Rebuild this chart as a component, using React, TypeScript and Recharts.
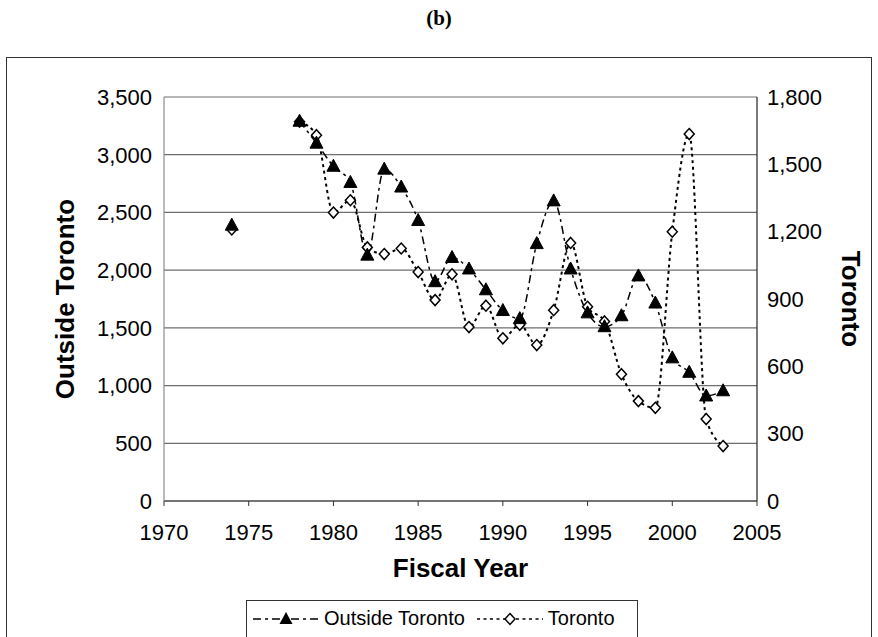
import React from 'react'
import { LineChart, Line, XAxis, YAxis, CartesianGrid, Label } from 'recharts'

// fiscal years and the two series (null = no value that year)
const years = [
  1974, 1975, 1976, 1977, 1978, 1979, 1980, 1981, 1982, 1983, 1984, 1985, 1986, 1987, 1988,
  1989, 1990, 1991, 1992, 1993, 1994, 1995, 1996, 1997, 1998, 1999, 2000, 2001, 2002, 2003,
]
const outsideToronto = [
  2390, null, null, null, 3290, 3100, 2900, 2760, 2130, 2875, 2720, 2430, 1900, 2110, 2010,
  1830, 1650, 1580, 2230, 2600, 2010, 1630, 1510, 1605, 1950, 1715, 1240, 1115, 910, 955,
]
const toronto = [
  1210, null, null, null, 1690, 1630, 1285, 1340, 1130, 1100, 1125, 1020, 895, 1010, 775,
  870, 725, 785, 695, 850, 1150, 865, 800, 565, 445, 415, 1200, 1635, 365, 245,
]

const xTicks = [1970, 1975, 1980, 1985, 1990, 1995, 2000, 2005]
const leftTicks = [0, 500, 1000, 1500, 2000, 2500, 3000, 3500]
const rightTicks = [0, 300, 600, 900, 1200, 1500, 1800]

const data = years.map((year, i) => ({
  year,
  outside: outsideToronto[i],
  toronto: toronto[i],
}))

const FONT = '"Liberation Sans", Arial, sans-serif'
const fmt = (v: number) => v.toLocaleString('en-US')

const TriangleDot = (props: any) => {
  const { cx, cy, value, index } = props
  if (value == null || cx == null || cy == null) return <g key={`t-${index}`} />
  return (
    <polygon
      key={`t-${index}`}
      points={`${cx},${cy - 7} ${cx - 6.5},${cy + 5} ${cx + 6.5},${cy + 5}`}
      fill="#000"
      stroke="#000"
      strokeWidth={1}
    />
  )
}

const DiamondDot = (props: any) => {
  const { cx, cy, value, index } = props
  if (value == null || cx == null || cy == null) return <g key={`d-${index}`} />
  return (
    <polygon
      key={`d-${index}`}
      points={`${cx},${cy - 5.5} ${cx + 5},${cy} ${cx},${cy + 5.5} ${cx - 5},${cy}`}
      fill="#fff"
      stroke="#000"
      strokeWidth={1.5}
    />
  )
}

const axisTitleStyle = { fontFamily: FONT, fontSize: 26, fontWeight: 700, fill: '#000' }

function LegendBox() {
  const item = (label: string, dash: string, marker: React.ReactNode, gap: number) => (
    <div style={{ display: 'flex', alignItems: 'center', marginRight: gap }}>
      <svg width={66} height={20} style={{ marginRight: 5 }}>
        <line x1={0} y1={10} x2={66} y2={10} stroke="#000" strokeWidth={1.5} strokeDasharray={dash} />
        {marker}
      </svg>
      <span>{label}</span>
    </div>
  )
  return (
    <div
      style={{
        position: 'absolute',
        left: 246,
        top: 600,
        width: 392,
        height: 50,
        border: '1.5px solid #333',
        boxSizing: 'border-box',
        display: 'flex',
        alignItems: 'flex-start',
        paddingTop: 6,
        paddingLeft: 6,
        fontFamily: FONT,
        fontSize: 20,
        color: '#000',
        background: '#fff',
      }}
    >
      {item('Outside Toronto', '8 4 3 4', <polygon points="33,3 26.5,15 39.5,15" fill="#000" />, 12)}
      {item('Toronto', '3 3.5', <polygon points="33,4.5 38,10 33,15.5 28,10" fill="#fff" stroke="#000" strokeWidth={1.5} />, 0)}
    </div>
  )
}

export default function App() {
  return (
    <div style={{ position: 'absolute', left: 0, top: 0, width: 878, height: 637, background: '#fff', overflow: 'hidden' }}>
      <div
        style={{
          position: 'absolute',
          top: 6,
          left: 0,
          width: 878,
          textAlign: 'center',
          fontFamily: '"Liberation Serif", "Times New Roman", serif',
          fontWeight: 700,
          fontSize: 21,
        }}
      >
        (b)
      </div>
      <div
        style={{
          position: 'absolute',
          left: 6,
          top: 57,
          width: 866,
          height: 600,
          border: '1.5px solid #333',
          boxSizing: 'border-box',
        }}
      />
      <div style={{ position: 'absolute', left: 0, top: 0 }}>
        <LineChart width={878} height={637} data={data} margin={{ top: 97, right: 0, bottom: 0, left: 0 }}>
          <CartesianGrid yAxisId="left" vertical={false} horizontal stroke="#6e6e6e" strokeWidth={1.2} />
          <XAxis
            dataKey="year"
            type="number"
            domain={[1970, 2005]}
            ticks={xTicks}
            height={136}
            tickSize={5}
            tickMargin={18}
            axisLine={{ stroke: '#333', strokeWidth: 1.2 }}
            tickLine={{ stroke: '#333' }}
            tick={{ fill: '#000', fontSize: 22, fontFamily: FONT }}
          >
            <Label
              content={(p: any) => {
                const vb = p.viewBox || { x: 164, y: 501, width: 593 }
                return (
                  <text x={vb.x + vb.width / 2} y={577} textAnchor="middle" style={axisTitleStyle}>
                    Fiscal Year
                  </text>
                )
              }}
            />
          </XAxis>
          <YAxis
            yAxisId="left"
            orientation="left"
            width={164}
            domain={[0, 3500]}
            ticks={leftTicks}
            tickFormatter={fmt}
            tickSize={0}
            tickMargin={12}
            tickLine={false}
            axisLine={{ stroke: '#8c8c8c', strokeWidth: 1.2 }}
            tick={{ fill: '#000', fontSize: 22, fontFamily: FONT }}
          >
            <Label
              content={(p: any) => {
                const vb = p.viewBox || { x: 0, y: 97, height: 404 }
                const cy = vb.y + vb.height / 2
                return (
                  <text x={65} y={cy} transform={`rotate(-90 65 ${cy})`} textAnchor="middle" dominantBaseline="central" style={axisTitleStyle}>
                    Outside Toronto
                  </text>
                )
              }}
            />
          </YAxis>
          <YAxis
            yAxisId="right"
            orientation="right"
            width={121}
            domain={[0, 1800]}
            ticks={rightTicks}
            tickFormatter={fmt}
            tickSize={0}
            tickMargin={10}
            tickLine={false}
            axisLine={{ stroke: '#222', strokeWidth: 1.2 }}
            tick={{ fill: '#000', fontSize: 22, fontFamily: FONT }}
          >
            <Label
              content={(p: any) => {
                const vb = p.viewBox || { x: 757, y: 97, height: 404 }
                const cy = vb.y + vb.height / 2
                const cx = vb.x + 94
                return (
                  <text x={cx} y={cy} transform={`rotate(90 ${cx} ${cy})`} textAnchor="middle" dominantBaseline="central" style={axisTitleStyle}>
                    Toronto
                  </text>
                )
              }}
            />
          </YAxis>
          <Line
            yAxisId="right"
            type="monotone"
            dataKey="toronto"
            stroke="#000"
            strokeWidth={2}
            strokeDasharray="3 3.5"
            dot={DiamondDot}
            activeDot={false}
            isAnimationActive={false}
          />
          <Line
            yAxisId="left"
            type="monotone"
            dataKey="outside"
            stroke="#000"
            strokeWidth={1.5}
            strokeDasharray="8 4 3 4"
            dot={TriangleDot}
            activeDot={false}
            isAnimationActive={false}
          />
        </LineChart>
      </div>
      <LegendBox />
    </div>
  )
}
